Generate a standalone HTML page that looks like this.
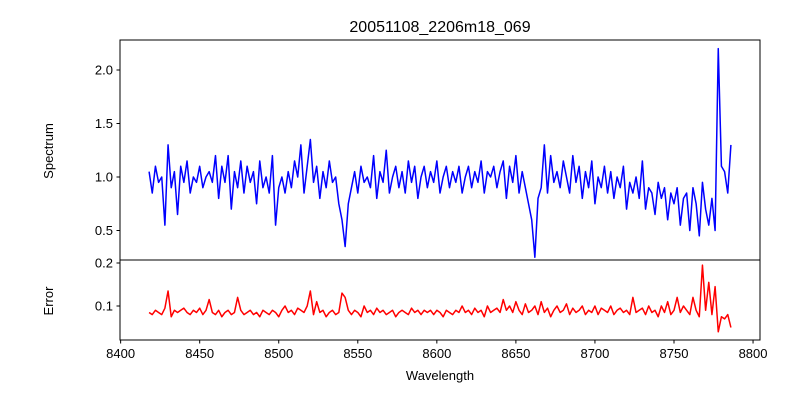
<!DOCTYPE html>
<html><head><meta charset="utf-8"><style>
body{margin:0;background:#fff}
svg{display:block;font-family:"Liberation Sans","DejaVu Sans",sans-serif}
</style></head><body>
<svg id="c" width="800" height="400" xmlns="http://www.w3.org/2000/svg"></svg>
<script>
const wlStart = 8418, wlStep = 2;
const spectrum = [1.05,0.85,1.1,0.95,1.0,0.55,1.3,0.9,1.05,0.65,
1.1,0.95,1.15,0.85,1.0,0.95,1.1,0.9,1.0,1.05,
0.95,1.2,0.8,1.1,0.95,1.2,0.7,1.05,0.9,1.15,
0.85,1.1,0.95,1.05,0.75,1.15,0.9,1.0,0.85,1.2,
0.55,0.9,1.0,0.85,1.05,0.9,1.15,1.0,1.3,0.85,
1.1,1.35,0.95,1.1,0.8,1.05,0.9,1.15,0.95,1.0,
0.75,0.6,0.35,0.75,0.9,1.05,0.85,1.1,0.95,1.0,
0.9,1.2,0.8,1.05,0.95,1.25,0.85,1.0,1.1,0.9,
1.05,0.85,1.15,0.95,1.1,0.8,1.0,1.1,0.9,1.05,
0.95,1.15,0.85,1.0,1.1,0.9,1.05,0.95,1.1,0.85,
1.0,1.1,0.9,1.05,0.95,1.15,0.85,1.05,1.0,1.1,
0.9,1.05,1.15,0.8,1.1,0.95,1.2,0.85,1.05,0.9,
0.75,0.6,0.25,0.8,0.9,1.3,0.85,1.2,0.95,1.05,
0.9,1.15,1.0,0.85,1.2,0.95,1.1,0.8,1.05,0.9,
1.15,0.75,1.0,0.9,1.1,0.85,1.05,0.8,1.0,0.9,
1.1,0.7,0.95,0.85,1.0,0.8,1.15,0.7,0.9,0.85,
0.65,0.95,0.8,0.9,0.6,0.85,0.75,0.9,0.55,0.8,
0.85,0.5,0.9,0.75,0.45,0.95,0.7,0.55,0.8,0.5,
2.2,1.1,1.05,0.85,1.3];
const errors = [0.085,0.08,0.09,0.085,0.08,0.095,0.135,0.075,0.09,0.085,
0.09,0.095,0.085,0.08,0.09,0.085,0.095,0.08,0.09,0.115,
0.085,0.08,0.09,0.075,0.085,0.09,0.08,0.085,0.12,0.09,
0.08,0.085,0.09,0.08,0.085,0.075,0.09,0.085,0.08,0.09,
0.085,0.075,0.09,0.1,0.085,0.09,0.08,0.095,0.09,0.085,
0.1,0.135,0.08,0.11,0.085,0.09,0.075,0.085,0.09,0.08,
0.085,0.13,0.12,0.09,0.08,0.09,0.085,0.075,0.1,0.085,
0.09,0.08,0.095,0.085,0.09,0.08,0.085,0.09,0.075,0.085,
0.09,0.085,0.08,0.095,0.085,0.09,0.08,0.09,0.085,0.09,
0.08,0.09,0.085,0.075,0.09,0.085,0.08,0.09,0.085,0.1,
0.085,0.09,0.08,0.095,0.085,0.09,0.075,0.1,0.085,0.09,
0.095,0.085,0.115,0.09,0.1,0.085,0.11,0.09,0.08,0.105,
0.085,0.09,0.1,0.08,0.11,0.085,0.095,0.075,0.09,0.1,
0.085,0.09,0.105,0.08,0.095,0.085,0.09,0.1,0.08,0.09,
0.085,0.1,0.08,0.095,0.09,0.085,0.1,0.08,0.09,0.095,
0.085,0.09,0.08,0.12,0.085,0.09,0.095,0.08,0.1,0.085,
0.09,0.075,0.1,0.085,0.11,0.08,0.09,0.12,0.085,0.1,
0.09,0.08,0.12,0.09,0.075,0.195,0.09,0.155,0.08,0.145,
0.04,0.075,0.07,0.08,0.05];
const xTicks = [8400,8450,8500,8550,8600,8650,8700,8750,8800];
const specTicks = [0.5,1.0,1.5,2.0];
const errTicks = [0.1,0.2];

const NS="http://www.w3.org/2000/svg", svg=document.getElementById('c');
function el(t,a,txt){const e=document.createElementNS(NS,t);for(const k in a)e.setAttribute(k,a[k]);if(txt!==undefined)e.textContent=txt;svg.appendChild(e);return e;}
const L=120,R=760;
const xMin=8399.6,xMax=8804.4;
const X=w=>L+(w-xMin)/(xMax-xMin)*(R-L);
const YS=v=>177-(v-1)*107;
const YE=v=>306-(v-0.1)*430;

let p='';spectrum.forEach((v,i)=>{p+=(i?'L':'M')+X(wlStart+i*wlStep).toFixed(2)+' '+YS(v).toFixed(2);});
let line=el('path',{d:p,fill:'none',stroke:'#0000ff','stroke-width':1.5,'stroke-linejoin':'round'});


p='';errors.forEach((v,i)=>{p+=(i?'L':'M')+X(wlStart+i*wlStep).toFixed(2)+' '+YE(v).toFixed(2);});
line=el('path',{d:p,fill:'none',stroke:'#ff0000','stroke-width':1.5,'stroke-linejoin':'round'});



el('rect',{x:0,y:0,width:800,height:40,fill:'#fff'});
el('rect',{x:0,y:340,width:800,height:60,fill:'#fff'});
let f=el('rect',{x:L,y:40,width:R-L,height:220,fill:'none',stroke:'#000','stroke-width':1});


f=el('rect',{x:L,y:260,width:R-L,height:80,fill:'none',stroke:'#000','stroke-width':1});



xTicks.forEach(t=>{const x=X(t);el('line',{x1:x,x2:x,y1:340,y2:343.5,stroke:'#000'});
 const tx=el('text',{x:x,y:358,'font-size':13,'text-anchor':'middle'},t);
 
 });
specTicks.forEach(t=>{const y=YS(t);el('line',{x1:L-3.5,x2:L,y1:y,y2:y,stroke:'#000'});
 const tx=el('text',{x:L-7,y:y+4.5,'font-size':13,'text-anchor':'end'},t.toFixed(1));
 
 });
errTicks.forEach(t=>{const y=YE(t);el('line',{x1:L-3.5,x2:L,y1:y,y2:y,stroke:'#000'});
 const tx=el('text',{x:L-7,y:y+4.5,'font-size':13,'text-anchor':'end'},t.toFixed(1));
 
 });
let t=el('text',{x:440,y:32,'font-size':16,'text-anchor':'middle'},'20051108_2206m18_069');


t=el('text',{x:440,y:380,'font-size':13,'text-anchor':'middle'},'Wavelength');


t=el('text',{x:53,y:151,'font-size':13,'text-anchor':'middle',transform:'rotate(-90 53 151)'},'Spectrum');


t=el('text',{x:53,y:301,'font-size':13,'text-anchor':'middle',transform:'rotate(-90 53 301)'},'Error');


</script>
</body></html>
